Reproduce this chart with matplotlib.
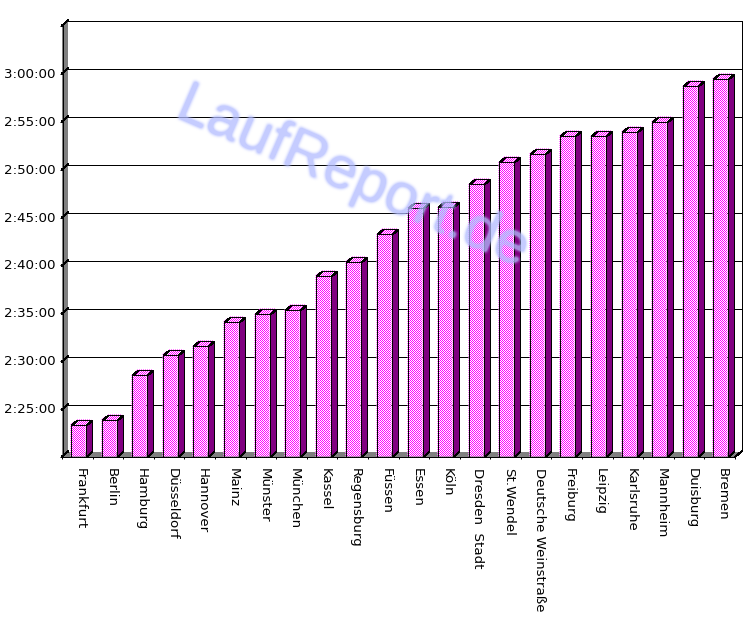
#!/usr/bin/python3

"""Marathon finish times per city, drawn as old-style 3D bars."""

import numpy as np
import matplotlib
matplotlib.use("Agg")
from matplotlib import pyplot as plt
from matplotlib import ticker as mticker
from matplotlib.patches import Polygon
from matplotlib.path import Path
from matplotlib.transforms import ScaledTranslation

cities = ["Frankfurt", "Berlin", "Hamburg", "Düsseldorf", "Hannover", "Mainz",
          "Münster", "München", "Kassel", "Regensburg", "Füssen", "Essen", "Köln",
          "Dresden  Stadt", "St.Wendel", "Deutsche Weinstraße", "Freiburg",
          "Leipzig", "Karlsruhe", "Mannheim", "Duisburg", "Bremen"]
times = ["2:23:25", "2:23:56", "2:28:39", "2:30:42", "2:31:36", "2:34:07",
         "2:34:57", "2:35:27", "2:38:56", "2:40:22", "2:43:18", "2:46:01",
         "2:46:07", "2:48:33", "2:50:49", "2:51:40", "2:53:34", "2:53:34",
         "2:53:58", "2:55:00", "2:58:48", "2:59:30"]
axis_min = "2:20:00"
axis_max = "3:05:00"
axis_step = 300

PURPLE = "#800080"
GREY = "#808080"
PINK = "#ff00ff"
MARK_BLUE = "#b2bcff"
DPI = 100


def to_seconds(text):
    h, m, s = text.split(":")
    return int(h) * 3600 + int(m) * 60 + int(s)


def to_label(value, pos=None):
    if value <= y_min or value >= y_max:
        return ""
    value = int(value)
    return f"{value // 3600}:{value % 3600 // 60:02d}:{value % 60:02d}"


def soft_edge(image, dpi):
    # small blur for the watermark
    pad = 6
    kernel = np.array([1, 3, 6, 7, 6, 3, 1], dtype=float)
    kernel /= kernel.sum()
    out = np.pad(image, ((pad, pad), (pad, pad), (0, 0)))
    alpha = out[:, :, 3]
    alpha = np.apply_along_axis(np.convolve, 0, alpha, kernel, mode="same")
    alpha = np.apply_along_axis(np.convolve, 1, alpha, kernel, mode="same")
    out[:, :, :3] = matplotlib.colors.to_rgb(MARK_BLUE)
    out[:, :, 3] = np.clip(alpha * 1.2, 0, 0.75)
    return out, -pad, -pad


def pixel_x(x):
    # put an x value on the centre of its pixel, keeps 1 px outlines crisp
    return (np.floor(x / px_x) + 0.5) * px_x


def pixel_y(y):
    return y_min + (np.floor((y - y_min) / px_y) + 0.5) * px_y


values = [to_seconds(t) for t in times]
y_min = to_seconds(axis_min)
y_max = to_seconds(axis_max)

plt.rcParams["font.family"] = ["DejaVu Sans"]
plt.rcParams["patch.antialiased"] = False
plt.rcParams["lines.antialiased"] = False

fig = plt.figure(figsize=(750 / DPI, 630 / DPI), dpi=DPI)
# plot box in pixels: 62..735 wide, 26..457 from the top
left_px, width_px, bottom_px, height_px = 62, 673, 173, 431
ax = fig.add_axes([left_px / 750, bottom_px / 630, width_px / 750, height_px / 630])

n = len(cities)
ax.set_xlim(0, n)
ax.set_ylim(y_min, y_max)

# 3D depth and bar size given in pixels, turned into data units
px_x = n / width_px
px_y = (y_max - y_min) / height_px
dx = 6 * px_x
dy = 5 * px_y
bar_gap = 8.5 * px_x
bar_w = 15 * px_x
edge = 0.72
base = pixel_y(y_min)

# walls and floor, only their outer edges are black
ax.add_patch(Polygon([(0, y_min), (dx, y_min + dy), (dx, y_max + dy), (0, y_max)],
                     closed=True, fc=GREY, ec="none", clip_on=False, zorder=1))
ax.add_patch(Polygon([(0, y_min), (dx, y_min + dy), (n + dx, y_min + dy), (n, y_min)],
                     closed=True, fc=GREY, ec="none", clip_on=False, zorder=1))
ax.plot([pixel_x(0), pixel_x(0)], [y_min, y_max], color="black", lw=edge, clip_on=False, zorder=1)

# grid on the back wall, with the short slant on the left wall
grid = np.arange(y_min, y_max + 1, axis_step)
for g in grid[1:]:
    ax.plot([dx, n + dx], [pixel_y(g) + dy, pixel_y(g) + dy], color="black", lw=edge,
            clip_on=False, zorder=1)
    ax.plot([0, dx], [pixel_y(g), pixel_y(g) + dy], color="black", lw=edge, clip_on=False, zorder=1)
ax.plot([pixel_x(n) + dx, pixel_x(n) + dx], [base + dy, pixel_y(y_max) + dy], color="black",
        lw=edge, clip_on=False, zorder=1)
ax.plot([pixel_x(n), pixel_x(n) + dx], [base, base + dy], color="black", lw=edge,
        clip_on=False, zorder=1)
ax.plot([0, dx], [base, base + dy], color="black", lw=edge, clip_on=False, zorder=1)

faces = []
for i, v in enumerate(values):
    x0 = pixel_x(i + bar_gap)
    x1 = x0 + bar_w
    top_y = pixel_y(v)
    front = [(x0, base), (x1, base), (x1, top_y), (x0, top_y), (x0, base)]
    top = [(x0, top_y), (x1, top_y), (x1 + dx, top_y + dy), (x0 + dx, top_y + dy), (x0, top_y)]
    side = [(x1, base), (x1 + dx, base + dy), (x1 + dx, top_y + dy), (x1, top_y)]
    faces += [Path(front), Path(top)]
    ax.add_patch(Polygon(side, closed=True, fc=PURPLE, ec="black", lw=edge, zorder=3, snap=True))
    ax.add_patch(Polygon(front, closed=True, fill=False, ec="black", lw=edge, zorder=4, snap=True))
    ax.add_patch(Polygon(top, closed=True, fill=False, ec="black", lw=edge, zorder=4, snap=True))

# one pixel dither of the bar faces
yy, xx = np.mgrid[0:height_px, 0:width_px]
dither = np.ones((height_px, width_px, 3))
dither[(xx + yy) % 2 == 0] = matplotlib.colors.to_rgb(PINK)
img = ax.imshow(dither, extent=(0, n, y_min, y_max), aspect="auto",
                interpolation="nearest", zorder=2)
img.set_clip_path(Path.make_compound_path(*faces), ax.transData)
ax.set_xlim(0, n)
ax.set_ylim(y_min, y_max)

ax.patch.set_visible(False)
for spine in ax.spines.values():
    spine.set_visible(False)
ax.plot([0, n], [base, base], color="black", lw=edge, clip_on=False, zorder=5)

ax.set_yticks(grid)
ax.yaxis.set_major_formatter(mticker.FuncFormatter(to_label))
ax.tick_params(axis="y", length=1.5, width=edge, pad=3.2, labelsize=9.6, colors="black")

ax.set_xticks(np.arange(n + 1))
ax.set_xticklabels([])
ax.tick_params(axis="x", which="major", length=1.5, width=edge)
ax.set_xticks(np.arange(n) + 0.5, minor=True)
ax.set_xticklabels(cities, minor=True, rotation=270, ha="center", va="top", fontsize=9.6)
ax.tick_params(axis="x", which="minor", length=0, pad=8)
shift = ScaledTranslation(3 / DPI, 0, fig.dpi_scale_trans)
for label in ax.get_xticklabels(minor=True):
    label.set_transform(label.get_transform() + shift)
up = ScaledTranslation(0, 1 / DPI, fig.dpi_scale_trans)
for label in ax.get_yticklabels():
    label.set_transform(label.get_transform() + up)

mark = fig.text(352 / 750, 1 - 179 / 630, "LaufReport.de", family="Liberation Sans",
                fontsize=43, color=MARK_BLUE, rotation=-23.5,
                rotation_mode="anchor", ha="center", va="center", zorder=10)
mark.set_agg_filter(soft_edge)

fig.savefig("out.png", dpi=DPI)
